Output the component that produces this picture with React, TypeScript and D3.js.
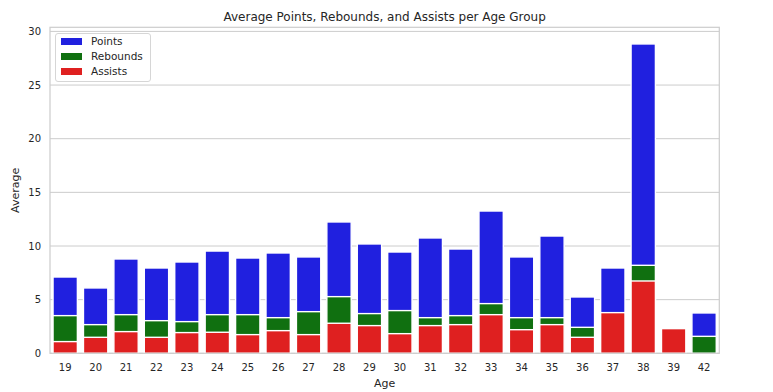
import React from "react";
import * as d3 from "d3";

const ages = ["19","20","21","22","23","24","25","26","27","28","29","30","31","32","33","34","35","36","37","38","39","42"];
const points = [7.11,6.09,8.79,7.95,8.51,9.53,8.88,9.35,8.98,12.24,10.19,9.44,10.75,9.72,13.26,8.98,10.93,5.25,7.95,28.83,2.0,3.76];
const rebounds = [3.51,2.67,3.60,3.04,2.95,3.60,3.60,3.32,3.88,5.28,3.70,3.98,3.32,3.51,4.63,3.32,3.32,2.42,3.2,8.2,1.0,1.58];
const assists = [1.09,1.49,2.02,1.49,1.93,1.96,1.74,2.11,1.74,2.80,2.58,1.83,2.58,2.67,3.60,2.20,2.67,1.49,3.79,6.74,2.30,0];
const yTicks = [0,5,10,15,20,25,30];
const seriesNames = ["Points","Rebounds","Assists"];
const seriesColors = ["#2020df","#107010","#df2020"];

export default function App() {
  const W = 773, H = 392;
  const left = 50, right = 719.3, top = 27.3, bottom = 353.3;
  const x = d3.scaleBand().domain(ages).range([left, right]).paddingInner(0.2).paddingOuter(0.1);
  const y = d3.scaleLinear().domain([0, 30.4]).range([bottom, bottom - 30.4 * 10.73]);
  const series = [points, rebounds, assists];
  const font = "DejaVu Sans, sans-serif";
  const txt = "#262626";
  return (
    <svg width={W} height={H} style={{ position: "absolute", left: 0, top: 0 }} fontFamily={font}>
      <rect x={0} y={0} width={W} height={H} fill="#fff" />
      {yTicks.map(t => (
        <g key={t}>
          <line x1={left} x2={right} y1={y(t)} y2={y(t)} stroke="#cccccc" strokeWidth={1} />
          <text x={left - 9} y={y(t)} dy="0.35em" textAnchor="end" fontSize={10} fill={txt}>{t}</text>
        </g>
      ))}
      {series.map((vals, si) => (
        <g key={si}>
          {vals.map((v, i) => v > 0 ? (
            <rect key={i} x={x(ages[i])!} width={x.bandwidth()} y={y(v)} height={y(0) - y(v)}
              fill={seriesColors[si]} stroke="#fff" strokeWidth={1.4} />
          ) : null)}
        </g>
      ))}
      <rect x={left} y={top} width={right - left} height={bottom - top} fill="none" stroke="#cccccc" strokeWidth={1.2} />
      {ages.map(a => (
        <text key={a} x={x(a)! + x.bandwidth() / 2} y={bottom + 18} textAnchor="middle" fontSize={10} fill={txt}>{a}</text>
      ))}
      <text x={(left + right) / 2} y={387} textAnchor="middle" fontSize={11} fill={txt}>Age</text>
      <text transform={`translate(19,${(top + bottom) / 2}) rotate(-90)`} textAnchor="middle" fontSize={11} fill={txt}>Average</text>
      <text x={(left + right) / 2} y={21} textAnchor="middle" fontSize={12} fill={txt}>Average Points, Rebounds, and Assists per Age Group</text>
      <g>
        <rect x={55.5} y={33.5} width={95} height={48} rx={2.5} fill="#fff" fillOpacity={0.8} stroke="#d6d6d6" strokeWidth={1} />
        {seriesNames.map((n, i) => (
          <g key={n}>
            <rect x={61} y={38 + i * 15} width={21} height={7} fill={seriesColors[i]} />
            <text x={91} y={41.5 + i * 15} dy="0.35em" fontSize={10.5} fill={txt}>{n}</text>
          </g>
        ))}
      </g>
    </svg>
  );
}
